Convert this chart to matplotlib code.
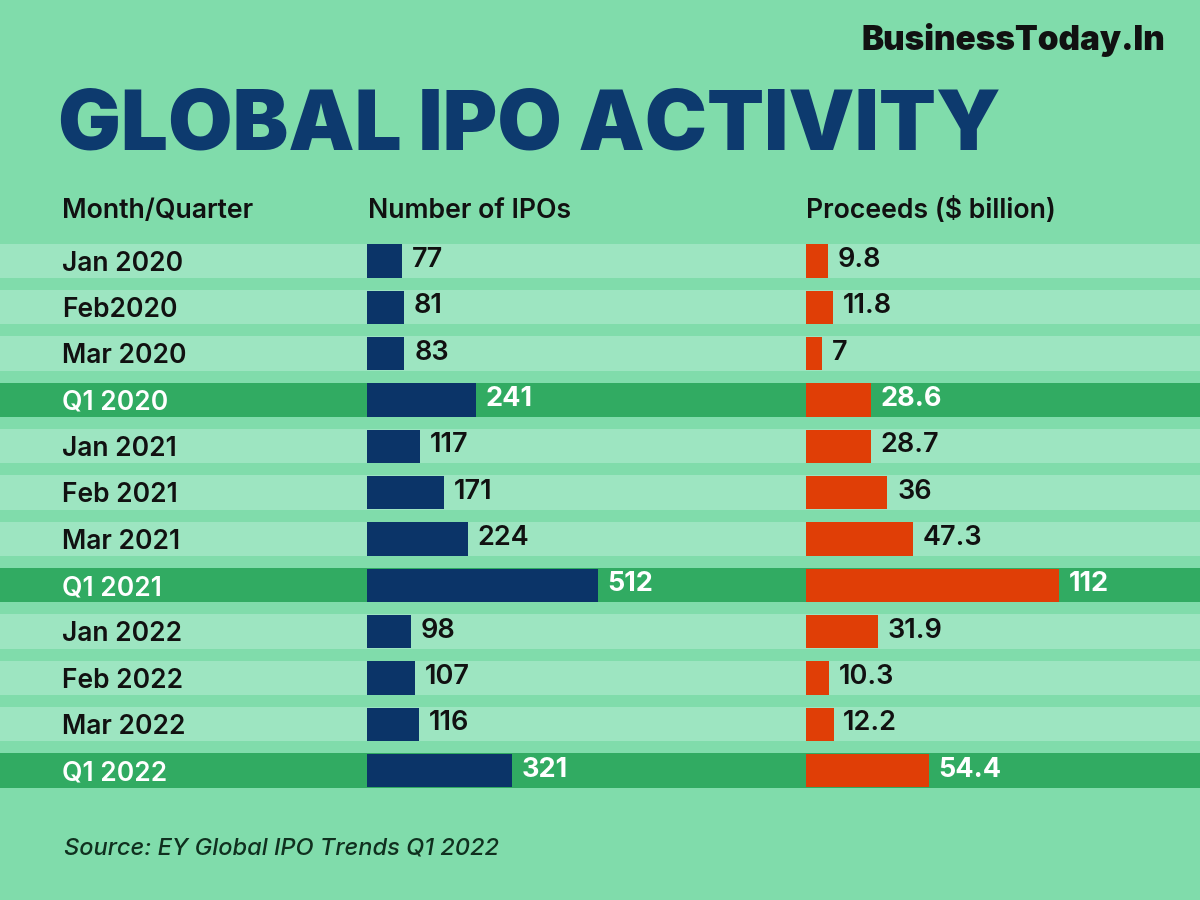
import matplotlib.pyplot as plt

# data
periods = ["Jan 2020", "Feb2020", "Mar 2020", "Q1 2020",
           "Jan 2021", "Feb 2021", "Mar 2021", "Q1 2021",
           "Jan 2022", "Feb 2022", "Mar 2022", "Q1 2022"]
num_ipos = [77, 81, 83, 241, 117, 171, 224, 512, 98, 107, 116, 321]
proceeds = [9.8, 11.8, 7, 28.6, 28.7, 36, 47.3, 112, 31.9, 10.3, 12.2, 54.4]
proceeds_lbl = ["9.8", "11.8", "7", "28.6", "28.7", "36", "47.3", "112", "31.9", "10.3", "12.2", "54.4"]
is_quarter = [p.startswith("Q1") for p in periods]

# colours
BG = "#80dcab"
STRIPE = "#9de5c1"
QROW = "#31ab62"
NAVY = "#0b3468"
ORANGE = "#e03e06"
TITLE = "#0d3a6e"
INK = "#111111"

plt.rcParams['font.family'] = ['Inter', 'DejaVu Sans']

fig = plt.figure(figsize=(12, 9), dpi=100, facecolor=BG)

n = len(periods)
top_c = 1 - 261 / 900
bot_c = 1 - 770.5 / 900
unit = (top_c - bot_c) / (n - 1)
ax_bottom = bot_c - 0.5 * unit
ax_height = unit * n
half = 0.37

# background stripes + row labels
ax_bg = fig.add_axes([0, ax_bottom, 1, ax_height])
ax_bg.set_xlim(0, 1200)
ax_bg.set_ylim(n - 0.5, -0.5)
ax_bg.axis('off')
for i, q in enumerate(is_quarter):
    ax_bg.axhspan(i - half, i + half, color=QROW if q else STRIPE, lw=0)
    ax_bg.text(62, i + 0.06, periods[i], ha='left', va='center', fontsize=19,
               fontweight='semibold', color='white' if q else INK)

# number of IPOs
scale_n = (598 - 367) / 512.0
ax_n = fig.add_axes([367 / 1200, ax_bottom, 400 / 1200, ax_height])
ax_n.set_xlim(0, 400 / scale_n)
ax_n.set_ylim(n - 0.5, -0.5)
ax_n.axis('off')
ax_n.barh(range(n), num_ipos, height=2 * half - 0.02, color=NAVY)
for i, v in enumerate(num_ipos):
    q = is_quarter[i]
    ax_n.annotate(str(v), (v, i - 0.02), xytext=(7, 0), textcoords='offset points',
                  ha='left', va='center', fontsize=19.5,
                  fontweight='bold' if q else 'semibold', color='white' if q else INK)

# proceeds
scale_p = (1059 - 806) / 112.0
ax_p = fig.add_axes([806 / 1200, ax_bottom, 380 / 1200, ax_height])
ax_p.set_xlim(0, 380 / scale_p)
ax_p.set_ylim(n - 0.5, -0.5)
ax_p.axis('off')
ax_p.barh(range(n), proceeds, height=2 * half - 0.02, color=ORANGE)
for i, v in enumerate(proceeds):
    q = is_quarter[i]
    ax_p.annotate(proceeds_lbl[i], (v, i - 0.02), xytext=(7, 0), textcoords='offset points',
                  ha='left', va='center', fontsize=19.5,
                  fontweight='bold' if q else 'semibold', color='white' if q else INK)

# headers
hy = 1 - 211 / 900
for x, s in [(62, "Month/Quarter"), (368, "Number of IPOs"), (806, "Proceeds ($ billion)")]:
    fig.text(x / 1200, hy, s, ha='left', va='center', fontsize=19.2,
             fontweight='semibold', color=INK)

# title and brand
fig.text(58 / 1200, 1 - 128 / 900, "GLOBAL IPO ACTIVITY", ha='left', va='center',
         fontsize=60, fontweight='black', color=TITLE)
fig.text(1165 / 1200, 1 - 40 / 900, "BusinessToday.In", ha='right', va='center',
         fontsize=24, fontweight='black', color=INK)

# source
fig.text(64 / 1200, 1 - 848 / 900, "Source: EY Global IPO Trends Q1 2022", ha='left',
         va='center', fontsize=17, fontstyle='italic', fontweight='medium', color="#10301f")

fig.savefig("out.png", dpi=100, facecolor=BG)
